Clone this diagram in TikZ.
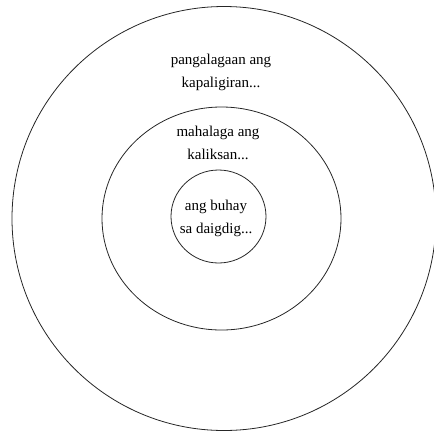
\documentclass[tikz,border=0pt]{standalone}
\usepackage{fontspec}
\setmainfont{Liberation Serif}
\usetikzlibrary{shapes.geometric}
\begin{document}
\begin{tikzpicture}[x=1pt,y=-1pt,
  ring/.style={draw=black!85,line width=0.8pt,ellipse,inner sep=0pt},
  lbl/.style={font=\fontsize{15}{22.5}\selectfont,align=center,inner sep=0pt,anchor=base}]
\useasboundingbox (0,0) rectangle (434,432);
\node[ring,minimum width=424pt,minimum height=424pt] (outer) at (224,218.5) {};
\node[ring,minimum width=239pt,minimum height=223pt] (middle) at (221.5,218.5) {};
\node[ring,minimum width=95pt,minimum height=93pt] (inner) at (218.5,216.5) {};
\node[lbl] (t1) at (221,87) {pangalagaan ang\\kapaligiran...};
\node[lbl] (t2) at (218,159) {mahalaga ang\\kaliksan...};
\node[lbl] (t3) at (216,233) {ang buhay\\sa daigdig...};
\end{tikzpicture}
\end{document}
